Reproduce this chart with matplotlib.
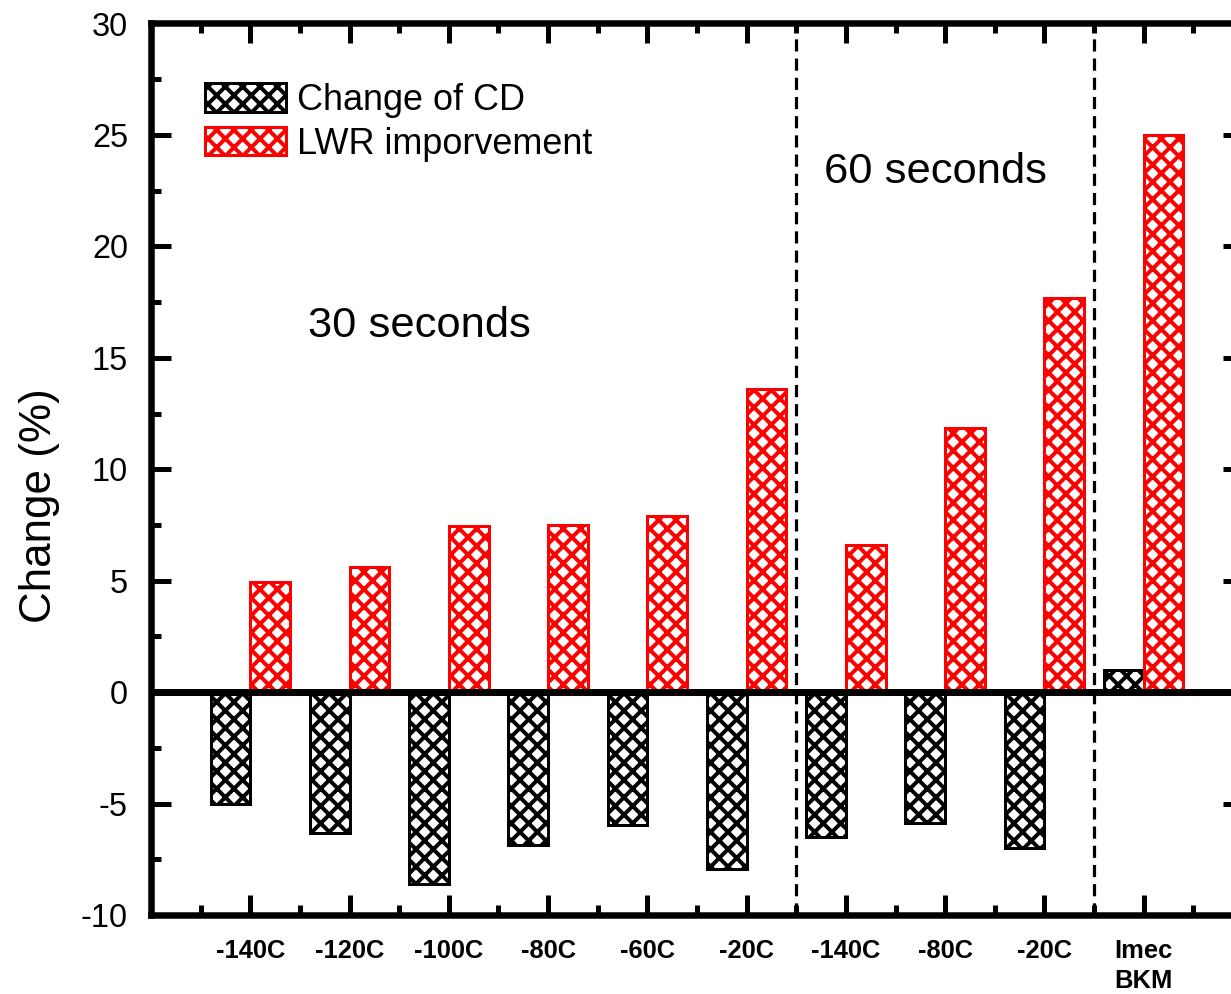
import matplotlib
matplotlib.use("Agg")
import matplotlib.pyplot as plt
import numpy as np

# ---- data ----
categories = ["-140C", "-120C", "-100C", "-80C", "-60C", "-20C",
              "-140C", "-80C", "-20C", "Imec\nBKM"]
cd_change = [-5.0, -6.3, -8.6, -6.85, -5.95, -7.95, -6.5, -5.85, -7.0, 1.0]
lwr_improvement = [4.95, 5.6, 7.45, 7.5, 7.9, 13.6, 6.6, 11.85, 17.7, 25.0]
separators = [6.5, 9.5]
y_ticks = [-10, -5, 0, 5, 10, 15, 20, 25, 30]

DPI = 104
P = 72.0 / DPI  # px -> pt

plt.rcParams['font.family'] = ['Liberation Sans', 'DejaVu Sans']
plt.rcParams['axes.unicode_minus'] = False
plt.rcParams['hatch.linewidth'] = 4.0 * P

fig = plt.figure(figsize=(1231 / DPI, 994 / DPI), dpi=DPI)
ax = fig.add_axes([151 / 1231, (994 - 915) / 994, 1092 / 1231, (915 - 23.5) / 994])

x = np.arange(1, len(categories) + 1)
w = 0.4
ax.bar(x - 0.2, cd_change, w, facecolor='white', edgecolor='black',
       hatch='xx', linewidth=3 * P, zorder=2, label='Change of CD')
ax.bar(x + 0.2, lwr_improvement, w, facecolor='white', edgecolor='#ff0000',
       hatch='xx', linewidth=3 * P, zorder=2, label='LWR imporvement')

ax.axhline(0, color='black', lw=7 * P, zorder=4)
for s in separators:
    ax.axvline(s, color='black', lw=3.2 * P, ls=(0, (3.8, 2.2)), zorder=3)

ax.set_xlim(0, 11)
ax.set_ylim(-10, 30)

ax.set_xticks(np.arange(0, 12))
ax.set_xticklabels([''] + categories + [''], fontsize=25.5 * P, fontweight='bold',
                   linespacing=1.3)
ax.set_xticks(np.arange(0.5, 11, 1), minor=True)
ax.set_yticks(y_ticks)
ax.set_yticklabels([str(v) for v in y_ticks], fontsize=32.5 * P)
ax.set_yticks(np.arange(-7.5, 30, 5), minor=True)

ax.tick_params(which='both', direction='in', top=True, right=True,
               width=5 * P, color='black')
ax.tick_params(which='major', length=20 * P)
ax.tick_params(which='minor', length=10 * P)
ax.tick_params(axis='y', which='major', pad=23 * P)
ax.tick_params(axis='x', which='major', pad=24 * P)

for sp in ax.spines.values():
    sp.set_linewidth(6.5 * P)

ax.set_ylabel('Change (%)', fontsize=44 * P)
ax.yaxis.set_label_coords(-0.083, 0.459)

ax.text(6.776, 22.85, '60 seconds', fontsize=43.5 * P, ha='left', va='baseline')
ax.text(1.585, 15.93, '30 seconds', fontsize=43.5 * P, ha='left', va='baseline')

fs_leg = 36
ax.legend(loc='upper left', bbox_to_anchor=(205 / 1231, 1 - 83 / 994),
          bbox_transform=fig.transFigure, frameon=False, fontsize=fs_leg * P,
          borderpad=0, borderaxespad=0, handlelength=81 / fs_leg,
          handleheight=30 / fs_leg, handletextpad=0.3, labelspacing=0.24)

fig.savefig('out.png', dpi=DPI)
